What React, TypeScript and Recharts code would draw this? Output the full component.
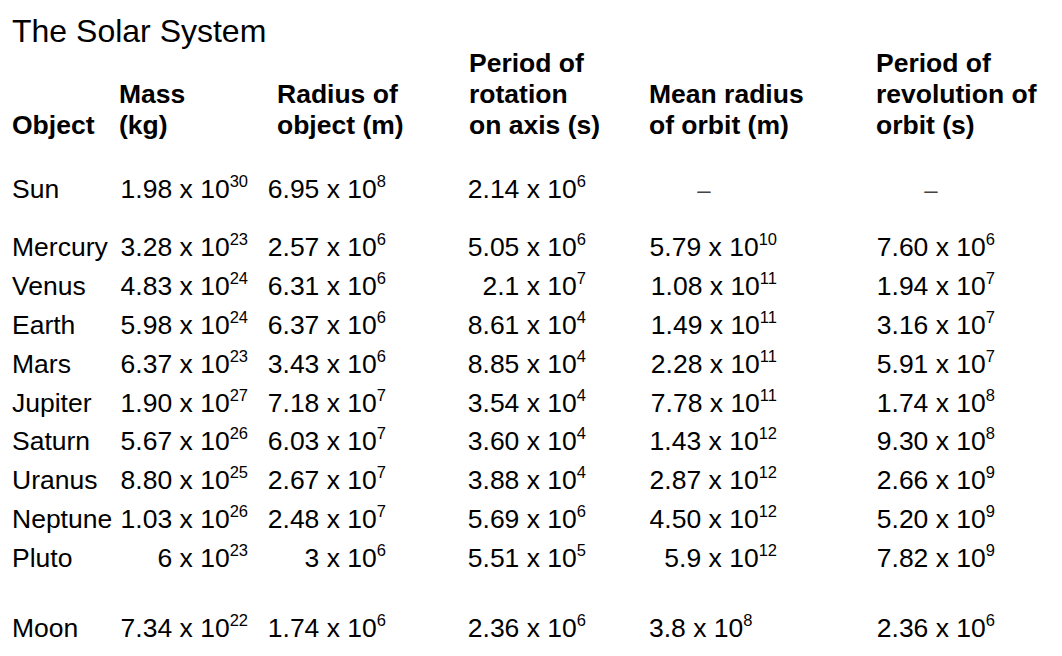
import React from 'react';
import { ScatterChart, Scatter, XAxis, YAxis } from 'recharts';

// ---------- data ----------
const title = 'The Solar System';

const objects = ['Sun', 'Mercury', 'Venus', 'Earth', 'Mars', 'Jupiter', 'Saturn', 'Uranus', 'Neptune', 'Pluto', 'Moon'];
const mass = ['1.98 x 10^30', '3.28 x 10^23', '4.83 x 10^24', '5.98 x 10^24', '6.37 x 10^23', '1.90 x 10^27', '5.67 x 10^26', '8.80 x 10^25', '1.03 x 10^26', '6 x 10^23', '7.34 x 10^22'];
const radius = ['6.95 x 10^8', '2.57 x 10^6', '6.31 x 10^6', '6.37 x 10^6', '3.43 x 10^6', '7.18 x 10^7', '6.03 x 10^7', '2.67 x 10^7', '2.48 x 10^7', '3 x 10^6', '1.74 x 10^6'];
const rotation = ['2.14 x 10^6', '5.05 x 10^6', '2.1 x 10^7', '8.61 x 10^4', '8.85 x 10^4', '3.54 x 10^4', '3.60 x 10^4', '3.88 x 10^4', '5.69 x 10^6', '5.51 x 10^5', '2.36 x 10^6'];
const orbitRadius = ['–', '5.79 x 10^10', '1.08 x 10^11', '1.49 x 10^11', '2.28 x 10^11', '7.78 x 10^11', '1.43 x 10^12', '2.87 x 10^12', '4.50 x 10^12', '5.9 x 10^12', '3.8 x 10^8'];
const revolution = ['–', '7.60 x 10^6', '1.94 x 10^7', '3.16 x 10^7', '5.91 x 10^7', '1.74 x 10^8', '9.30 x 10^8', '2.66 x 10^9', '5.20 x 10^9', '7.82 x 10^9', '2.36 x 10^6'];

const headObject = ['', '', 'Object'];
const headMass = ['', 'Mass', '(kg)'];
const headRadius = ['', 'Radius of', 'object (m)'];
const headRotation = ['Period of', 'rotation', 'on axis (s)'];
const headOrbit = ['', 'Mean radius', 'of orbit (m)'];
const headRevolution = ['Period of', 'revolution of', 'orbit (s)'];

// ---------- layout ----------
const W = 1062;
const H = 656;
const STEP = 38.9; // px per row unit
const ORIGIN = 198; // px of row unit 0 (Sun baseline)
const Y_DOMAIN: [number, number] = [-ORIGIN / STEP, (H - ORIGIN) / STEP];

// row units: Sun, planets, Moon (with group gaps)
const FIRST_PLANET = 1.491;
const MOON_GAP = 1.794;
const rowUnit = (i: number) => (i === 0 ? 0 : i <= 9 ? FIRST_PLANET + (i - 1) : FIRST_PLANET + 8 + MOON_GAP);
const headerUnits = [-3.247, -2.442, -1.638];
const titleUnit = -4.018;

type ColDef = { head: string[]; values: string[]; left: number; right: number; dashX?: number };
const columns: ColDef[] = [
  { head: headObject, values: objects, left: 12, right: 12 },
  { head: headMass, values: mass, left: 119, right: 248 },
  { head: headRadius, values: radius, left: 277, right: 386 },
  { head: headRotation, values: rotation, left: 469, right: 586 },
  { head: headOrbit, values: orbitRadius, left: 649, right: 777, dashX: 704 },
  { head: headRevolution, values: revolution, left: 876, right: 995, dashX: 931 },
];

type Pt = { x: number; y: number; text: string; kind: string; anchor: string };
const points: Pt[] = [];
points.push({ x: 12, y: titleUnit, text: title, kind: 'title', anchor: 'start' });
columns.forEach((col, ci) => {
  col.head.forEach((h, li) => {
    if (h) points.push({ x: col.left, y: headerUnits[li], text: h, kind: 'head', anchor: 'start' });
  });
  col.values.forEach((v, ri) => {
    if (ci === 0) {
      points.push({ x: col.left, y: rowUnit(ri), text: v, kind: 'body', anchor: 'start' });
    } else if (v === '–') {
      points.push({ x: col.dashX ?? col.left, y: rowUnit(ri), text: v, kind: 'dash', anchor: 'middle' });
    } else if (ci === 4 && ri === 10) {
      points.push({ x: col.left, y: rowUnit(ri), text: v, kind: 'body', anchor: 'start' });
    } else {
      points.push({ x: col.right, y: rowUnit(ri), text: v, kind: 'body', anchor: 'end' });
    }
  });
});

const FONT = "'Liberation Sans', Arial, Helvetica, sans-serif";

const TextCell = (props: any) => {
  const { cx, cy, payload } = props;
  const { text, kind, anchor } = payload as Pt;
  if (kind === 'title') {
    return (
      <text x={cx} y={cy} textAnchor="start" fontFamily={FONT} fontSize={32} fill="#000">
        {text}
      </text>
    );
  }
  if (kind === 'head') {
    return (
      <text x={cx} y={cy} textAnchor="start" fontFamily={FONT} fontSize={26.5} fontWeight="bold" fill="#000">
        {text}
      </text>
    );
  }
  if (kind === 'dash') {
    return (
      <text x={cx} y={cy} textAnchor="middle" fontFamily={FONT} fontSize={24} fill="#444">
        {text}
      </text>
    );
  }
  const [m, e] = text.split('^');
  return (
    <text x={cx} y={cy} textAnchor={anchor} fontFamily={FONT} fontSize={26.5} fill="#000">
      <tspan>{m}</tspan>
      {e ? (
        <tspan dy={-11} fontSize={16.5}>
          {e}
        </tspan>
      ) : null}
    </text>
  );
};

export default function App() {
  return (
    <div style={{ position: 'absolute', left: 0, top: 0, width: W, height: H, background: '#fff' }}>
      <ScatterChart width={W} height={H} margin={{ top: 0, right: 0, bottom: 0, left: 0 }}>
        <XAxis type="number" dataKey="x" domain={[0, W]} hide />
        <YAxis type="number" dataKey="y" domain={Y_DOMAIN} reversed hide />
        <Scatter data={points} shape={TextCell} isAnimationActive={false} />
      </ScatterChart>
    </div>
  );
}
